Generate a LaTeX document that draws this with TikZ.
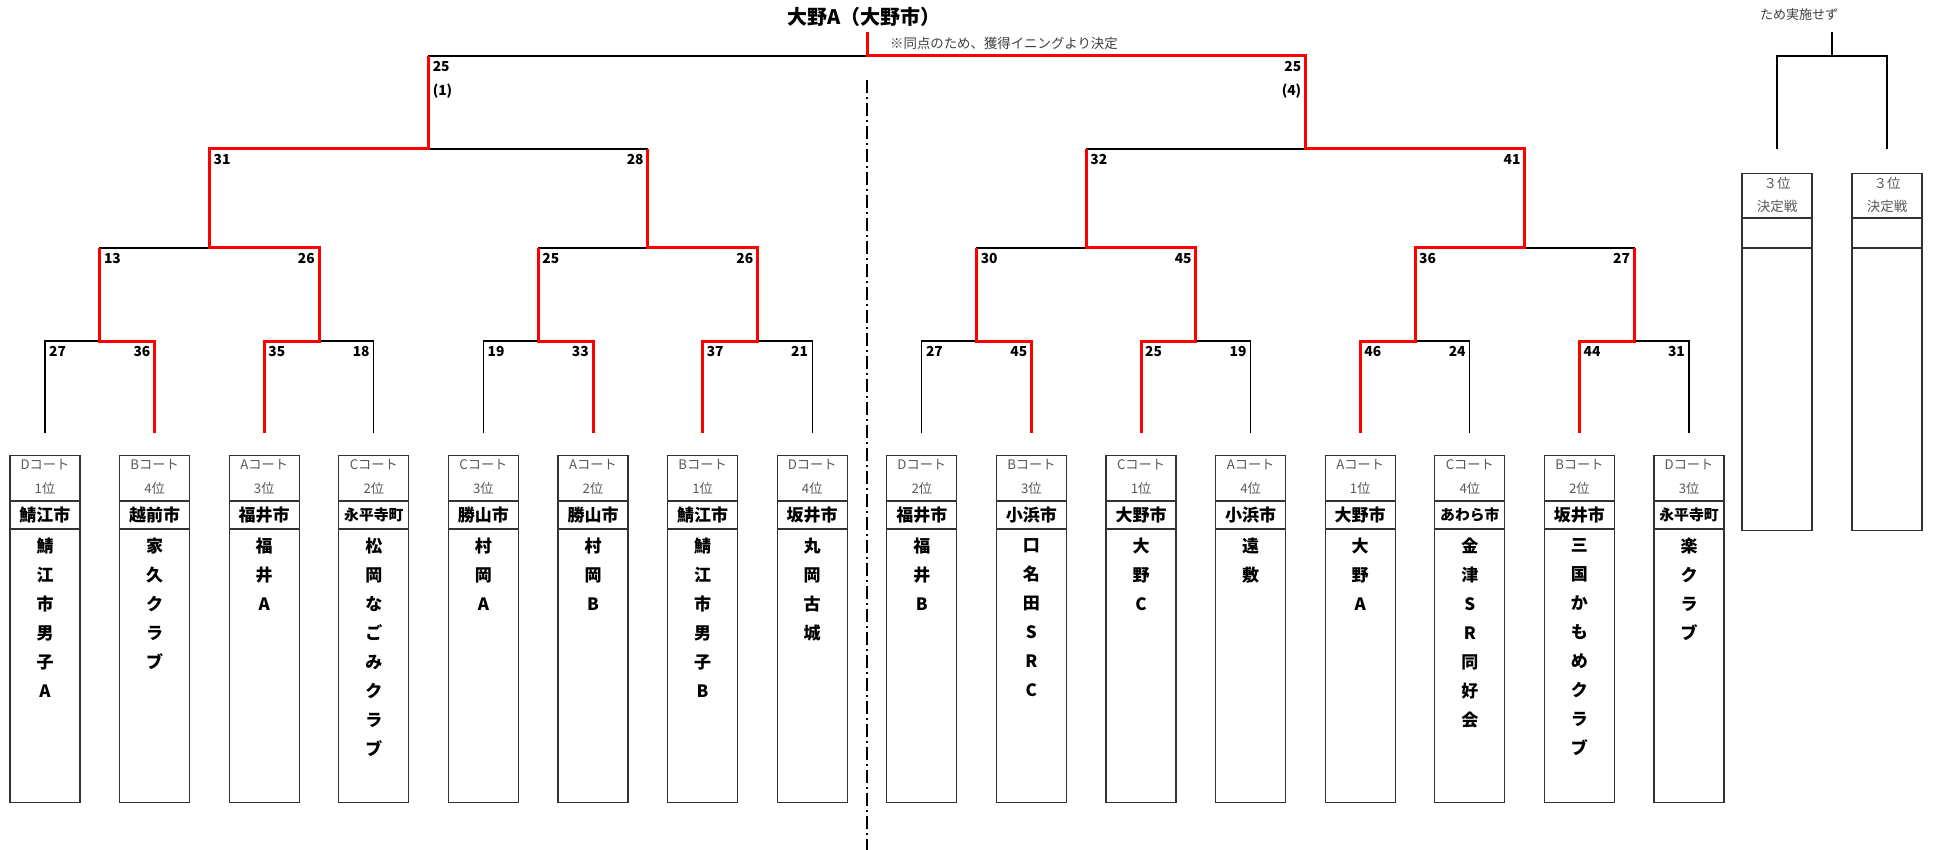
\documentclass[tikz,border=0pt]{standalone}
\usepackage{fontspec}
\setmainfont{Noto Sans CJK JP}
\usetikzlibrary{calc}
\definecolor{wred}{RGB}{255,0,0}
\definecolor{gtxt}{RGB}{89,89,89}
\definecolor{boxc}{RGB}{50,50,50}
\newcommand\vst[1]{\vbox{\baselineskip=29pt\lineskiplimit=-10pt\expandafter\vstx#1\relax}}
\def\vstx#1{\ifx\relax#1\else\hbox to 22pt{\hss#1\hss}\expandafter\vstx\fi}
\tikzset{
  bl/.style={line width=1.2pt, draw=black},
  rd/.style={line width=3pt, draw=wred, line join=miter},
  teambox/.style={draw=boxc, line width=1.1pt, minimum width=70pt, minimum height=347pt, anchor=north, inner sep=0pt},
  thirdbox/.style={draw=boxc, line width=1.1pt, minimum width=70pt, minimum height=357pt, anchor=north, inner sep=0pt},
  sepline/.style={draw=boxc, line width=1.1pt},
  courttxt/.style={font=\fontsize{13.2}{15}\selectfont, text=gtxt, inner sep=0pt},
  teamtxt/.style={font=\fontsize{17}{29}\selectfont\bfseries, inner sep=0pt, anchor=north},
  score/.style={font=\fontsize{13.8}{15}\selectfont\bfseries, inner sep=0pt},
  sl/.style={score, anchor=north west},
  sr/.style={score, anchor=north east},
}
\begin{document}
\begin{tikzpicture}[x=1pt,y=-1pt]
\fill[white] (0,0) rectangle (1933,850);
\useasboundingbox (0,0) rectangle (1933,850);

% coordinates of the bracket
\foreach \i in {0,...,15} \coordinate (L\i) at ({45+109.6*\i},433);
\foreach \k in {0,...,7} \coordinate (R\k) at ({99.8+219.2*\k},341);
\foreach \j in {0,...,3} \coordinate (Q\j) at ({209.4+438.4*\j},248);
\foreach \t in {0,1} \coordinate (S\t) at ({428.6+876.8*\t},149);
\coordinate (F) at (867,56);
\coordinate (C) at (867,32);
\coordinate (D1) at (867,80);
\coordinate (D2) at (867,850);

% title and note
\node[font=\fontsize{20}{22}\selectfont\bfseries, inner sep=0pt] (title) at (864,17) {大野A（大野市）};
\node[font=\fontsize{13.4}{15}\selectfont, text=black!75, inner sep=0pt, anchor=west] (note) at (890,43) {※同点のため、獲得イニングより決定};

% dash-dot separator
\draw[black, line width=1.2pt, dash pattern=on 13pt off 4pt on 2pt off 4pt] (D1) -- (D2);

% black bracket
\foreach \k in {0,...,7} {
  \pgfmathtruncatemacro\a{2*\k}\pgfmathtruncatemacro\b{2*\k+1}
  \draw[bl] (L\a) |- (R\k) -| (L\b);
}
\foreach \j in {0,...,3} {
  \pgfmathtruncatemacro\a{2*\j}\pgfmathtruncatemacro\b{2*\j+1}
  \draw[bl] (R\a) |- (Q\j) -| (R\b);
}
\foreach \t in {0,1} {
  \pgfmathtruncatemacro\a{2*\t}\pgfmathtruncatemacro\b{2*\t+1}
  \draw[bl] (Q\a) |- (S\t) -| (Q\b);
}
\draw[bl] (S0) |- (F) -| (S1);

% red winner paths
\draw[rd] (L1) |- (R0) -- (R0 |- Q0);
\draw[rd] (L2) |- (R1) -- (R1 |- Q0);
\draw[rd] (L5) |- (R2) -- (R2 |- Q1);
\draw[rd] (L6) |- (R3) -- (R3 |- Q1);
\draw[rd] (L9) |- (R4) -- (R4 |- Q2);
\draw[rd] (L10) |- (R5) -- (R5 |- Q2);
\draw[rd] (L12) |- (R6) -- (R6 |- Q3);
\draw[rd] (L14) |- (R7) -- (R7 |- Q3);
\draw[rd] (R1) |- (Q0) -- (Q0 |- S0);
\draw[rd] (R3) |- (Q1) -- (Q1 |- S0);
\draw[rd] (R5) |- (Q2) -- (Q2 |- S1);
\draw[rd] (R6) |- (Q3) -- (Q3 |- S1);
\draw[rd] (Q0) |- (S0) -- (S0 |- F);
\draw[rd] (Q3) |- (S1) -- (S1 |- F);
\draw[rd] (S1) |- (F) -- (C);

% scores, first round
\node[sl] (s1) at (49,346) {27};     \node[sr] (s2) at (150.6,346) {36};
\node[sl] (s3) at (268.2,346) {35};  \node[sr] (s4) at (369.8,346) {18};
\node[sl] (s5) at (487.4,346) {19};  \node[sr] (s6) at (589,346) {33};
\node[sl] (s7) at (706.6,346) {37};  \node[sr] (s8) at (808.2,346) {21};
\node[sl] (s9) at (925.8,346) {27};  \node[sr] (s10) at (1027.4,346) {45};
\node[sl] (s11) at (1145,346) {25};  \node[sr] (s12) at (1246.6,346) {19};
\node[sl] (s13) at (1364.2,346) {46}; \node[sr] (s14) at (1465.8,346) {24};
\node[sl] (s15) at (1583.4,346) {44}; \node[sr] (s16) at (1685,346) {31};
% quarter finals
\node[sl] (q1) at (103.8,253) {13};  \node[sr] (q2) at (315,253) {26};
\node[sl] (q3) at (542.2,253) {25};  \node[sr] (q4) at (753.4,253) {26};
\node[sl] (q5) at (980.6,253) {30};  \node[sr] (q6) at (1191.8,253) {45};
\node[sl] (q7) at (1419,253) {36};   \node[sr] (q8) at (1630.2,253) {27};
% semi finals
\node[sl] (h1) at (213.4,154) {31};  \node[sr] (h2) at (643.8,154) {28};
\node[sl] (h3) at (1090.2,154) {32}; \node[sr] (h4) at (1520.6,154) {41};
% final
\node[sl] (f1) at (432.6,61) {25};   \node[sr] (f2) at (1301.4,61) {25};
\node[sl] (f3) at (432.6,84) {(1)};  \node[sr] (f4) at (1301.4,84) {(4)};

% team boxes
\foreach \xct/\xrk/\xcy/\xcs/\xtm [count=\i from 0] in {
  D/1/鯖江市/17/鯖江市男子A, B/4/越前市/17/家久クラブ, A/3/福井市/17/福井A,
  C/2/永平寺町/14.8/松岡なごみクラブ, C/3/勝山市/17/村岡A, A/2/勝山市/17/村岡B,
  B/1/鯖江市/17/鯖江市男子B, D/4/坂井市/17/丸岡古城, D/2/福井市/17/福井B,
  B/3/小浜市/17/口名田SRC, C/1/大野市/17/大野C, A/4/小浜市/17/遠敷,
  A/1/大野市/17/大野A, C/4/あわら市/14.8/金津SR同好会, B/2/坂井市/17/三国かもめクラブ,
  D/3/永平寺町/14.8/楽クラブ} {
  \pgfmathsetmacro\cx{45+109.6*\i}
  \node[teambox] (B\i) at (\cx,455) {};
  \draw[sepline] ([yshift=-46pt]B\i.north west) -- ([yshift=-46pt]B\i.north east);
  \draw[sepline] ([yshift=-74pt]B\i.north west) -- ([yshift=-74pt]B\i.north east);
  \node[courttxt] (ct\i) at (\cx,465) {\xct コート};
  \node[courttxt] (rk\i) at (\cx,488) {\xrk 位};
  \node[inner sep=0pt] (cy\i) at (\cx,515) {\fontsize{\xcs}{20}\selectfont\bfseries\xcy};
  \node[teamtxt] (tm\i) at (\cx,538) {\vst{\xtm}};
}

% third place
\coordinate (TL) at (1777,149);
\coordinate (TR) at (1887,149);
\coordinate (TM) at (1832,56);
\coordinate (TC) at (1832,32);
\draw[bl] (TL) |- (TM) -| (TR);
\draw[bl] (TM) -- (TC);
\node[font=\fontsize{13}{15}\selectfont, text=black!75, inner sep=0pt] (tnote) at (1799,15) {ため実施せず};
\foreach \cx [count=\n] in {1777,1887} {
  \node[thirdbox] (T\n) at (\cx,173) {};
  \draw[sepline] ([yshift=-45pt]T\n.north west) -- ([yshift=-45pt]T\n.north east);
  \draw[sepline] ([yshift=-75pt]T\n.north west) -- ([yshift=-75pt]T\n.north east);
  \node[courttxt, font=\fontsize{13.5}{15}\selectfont] (tr\n) at (\cx,183) {３位};
  \node[courttxt, font=\fontsize{13.5}{15}\selectfont] (td\n) at (\cx,206) {決定戦};
}
\end{tikzpicture}
\end{document}
